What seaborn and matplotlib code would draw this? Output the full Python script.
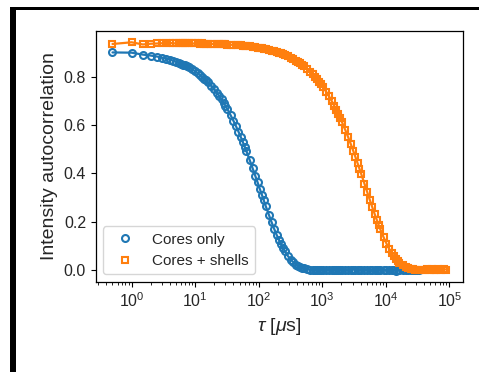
import matplotlib
matplotlib.use("Agg")
import matplotlib.pyplot as plt
import seaborn as sns

sns.set_style("ticks")
plt.rcParams['font.family'] = ['Liberation Sans', 'DejaVu Sans']
plt.rcParams['mathtext.fontset'] = 'custom'
plt.rcParams['mathtext.rm'] = 'Liberation Sans'
plt.rcParams['mathtext.it'] = 'Liberation Sans:italic'

# lag times of the correlator, in microseconds
tau = [0.5, 1.0, 1.5, 2.0, 2.5, 3.0, 3.5, 4.0, 4.5, 5.0, 5.5, 6.0, 6.5, 7.0, 7.5, 8.0,
       9, 10, 11, 12, 13, 14, 15, 16,
       18, 20, 22, 24, 26, 28, 30, 32,
       36, 40, 44, 48, 52, 56, 60, 64,
       72, 80, 88, 96, 104, 112, 120, 128,
       144, 160, 176, 192, 208, 224, 240, 256,
       288, 320, 352, 384, 416, 448, 480, 512,
       576, 640, 704, 768, 832, 896, 960, 1024,
       1152, 1280, 1408, 1536, 1664, 1792, 1920, 2048,
       2304, 2560, 2816, 3072, 3328, 3584, 3840, 4096,
       4608, 5120, 5632, 6144, 6656, 7168, 7680, 8192,
       9216, 10240, 11264, 12288, 13312, 14336, 15360, 16384,
       18432, 20480, 22528, 24576, 26624, 28672, 30720, 32768,
       36864, 40960, 45056, 49152, 53248, 57344, 61440, 65536,
       73728, 81920, 90112]

g_cores = [0.901, 0.900, 0.892, 0.888, 0.884, 0.880, 0.875, 0.871,
           0.867, 0.863, 0.859, 0.855, 0.851, 0.847, 0.843, 0.839,
           0.831, 0.823, 0.815, 0.807, 0.800, 0.792, 0.785, 0.777,
           0.762, 0.748, 0.734, 0.720, 0.707, 0.693, 0.680, 0.667,
           0.642, 0.618, 0.595, 0.573, 0.552, 0.531, 0.511, 0.492,
           0.456, 0.422, 0.391, 0.363, 0.336, 0.312, 0.289, 0.267,
           0.230, 0.197, 0.169, 0.145, 0.125, 0.107, 0.092, 0.079,
           0.058, 0.043, 0.032, 0.023, 0.017, 0.013, 0.009, 0.007,
           0.004, 0.002, 0.001, 0.001,
           0.001, 0.000, 0.001, -0.001,
           0.002, 0.001, 0.000, 0.001, -0.001, 0.000, 0.002, 0.001,
           0.000, -0.001, 0.001, 0.002, 0.000, 0.001, -0.001, 0.000,
           0.001, 0.000, 0.002, 0.001, -0.001, 0.000, 0.001, 0.000,
           0.001, -0.001, 0.000, 0.001, 0.000, -0.002, 0.001, 0.000,
           -0.001, 0.000, 0.001, -0.001, 0.000, 0.001, -0.001, 0.000]

g_shells = [0.936, 0.943, 0.934, 0.937, 0.938, 0.939, 0.938, 0.940,
            0.939, 0.938, 0.940, 0.939, 0.938, 0.939, 0.938, 0.939,
            0.938, 0.938, 0.939, 0.937, 0.938, 0.937, 0.937, 0.937,
            0.9365, 0.9361, 0.9357, 0.9353, 0.9349, 0.9345, 0.9341, 0.9337,
            0.9329, 0.9322, 0.9314, 0.9306, 0.9298, 0.9290, 0.9283, 0.9275,
            0.9259, 0.9244, 0.9228, 0.9213, 0.9197, 0.9182, 0.9166, 0.9151,
            0.9120, 0.9090, 0.9060, 0.9029, 0.8999, 0.8969, 0.8939, 0.8909,
            0.8849, 0.8790, 0.8731, 0.8673, 0.8615, 0.8557, 0.8500, 0.8443,
            0.8331, 0.8220, 0.8110, 0.8002, 0.7895, 0.7790, 0.7686, 0.7584,
            0.7383, 0.7188, 0.6997, 0.6812, 0.6632, 0.6456, 0.6285, 0.6119,
            0.5799, 0.5496, 0.5209, 0.4937, 0.4679, 0.4434, 0.4202, 0.3983,
            0.3578, 0.3213, 0.2886, 0.2593, 0.2329, 0.2092, 0.1879, 0.1688,
            0.1362, 0.1098, 0.0886, 0.0715, 0.0577, 0.0465, 0.0376, 0.0303,
            0.0197, 0.0128, 0.0084, 0.0054, 0.0035, 0.0023, 0.0015, 0.0010,
            0.002, -0.001, 0.003, 0.001, 0.004, 0.000, 0.002, 0.003,
            0.001, 0.004, 0.002]

labels = ["Cores only", "Cores + shells"]
blue, orange = "#1f77b4", "#ff7f0e"

fig = plt.figure(figsize=(4.79, 3.72), dpi=100)
ax = fig.add_axes([0.200, 0.242, 0.767, 0.675])

tau_cores = tau[:len(g_cores)]
sns.lineplot(x=tau_cores, y=g_cores, ax=ax, color=blue, lw=1.6, estimator=None, legend=False)
sns.lineplot(x=tau, y=g_shells, ax=ax, color=orange, lw=1.6, estimator=None, legend=False)
ax.plot(tau_cores, g_cores, 'o', ms=5, mfc='none', mec=blue, mew=1.5, label=labels[0])
ax.plot(tau, g_shells, 's', ms=5, mfc='none', mec=orange, mew=1.5, label=labels[1])

ax.set_xscale('log')
ax.set_xticks([1, 10, 100, 1000, 10000, 100000])
ax.set_xlabel(r'$\tau$ [$\mu$s]', fontsize=14)
ax.set_ylabel('Intensity autocorrelation', fontsize=14)
ax.tick_params(axis='both', which='major', labelsize=11.5, length=3.5, width=0.8, color='black')
ax.tick_params(axis='x', which='minor', length=2, width=0.6, color='black')
for sp in ax.spines.values():
    sp.set_color('black')
    sp.set_linewidth(0.9)

ax.legend(loc='lower left', fontsize=11, frameon=True)

# black frame left over at the top and left of the original screenshot
fig.add_artist(plt.Rectangle((10 / 479, 1 - 10 / 372), 469 / 479, 3 / 372,
                             transform=fig.transFigure, color='black', lw=0))
fig.add_artist(plt.Rectangle((10 / 479, 0), 6 / 479, 1 - 7 / 372,
                             transform=fig.transFigure, color='black', lw=0))

fig.savefig('out.png', dpi=100)
